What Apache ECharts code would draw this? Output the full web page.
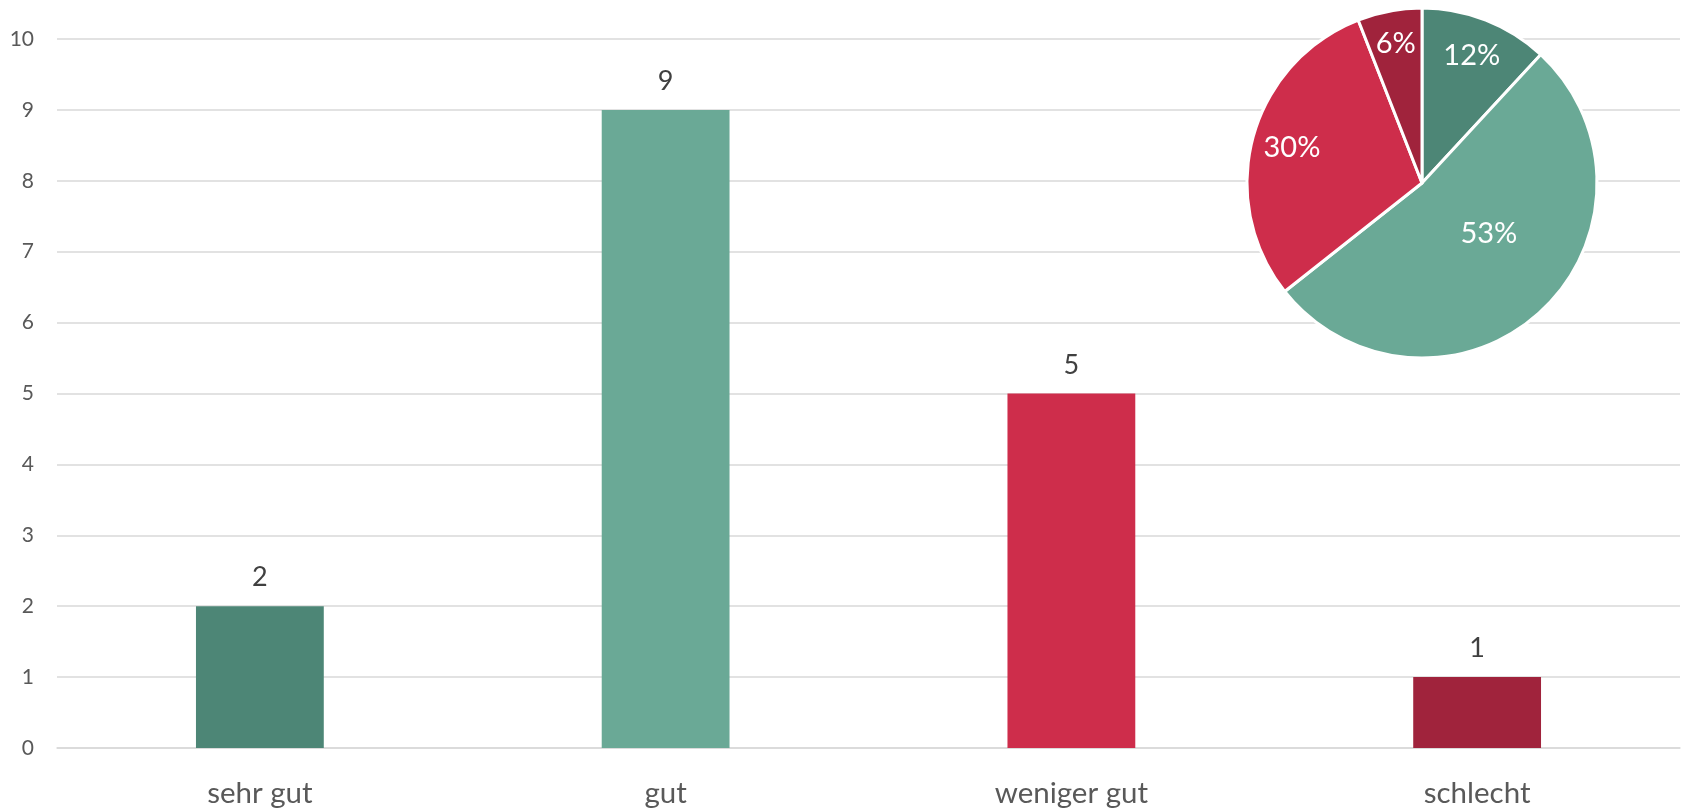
<!DOCTYPE html>
<html>
<head>
<meta charset="utf-8">
<script src="https://cdn.jsdelivr.net/npm/echarts@6/dist/echarts.min.js"></script>
<style>
html,body{margin:0;padding:0;background:#fff;}
#main{width:1685px;height:808px;}
</style>
</head>
<body>
<div id="main"></div>
<script>
const categories = ['sehr gut', 'gut', 'weniger gut', 'schlecht'];
const counts = [2, 9, 5, 1];
const piePercents = [12, 53, 30, 6];
const yTicks = [0, 1, 2, 3, 4, 5, 6, 7, 8, 9, 10];

const colors = ['#4D8676', '#6AA996', '#CE2D4B', '#A0233C'];
const FONT = 'Lato, "Open Sans", sans-serif';

const pieCenter = [1422, 183];
const pieRadius = 175;
const labelRatios = [0.78, 0.48, 0.77, 0.81];
const labelAngleShift = [0, -10, 0, 0];
const pieTotal = piePercents.reduce((a, b) => a + b, 0);

const chart = echarts.init(document.getElementById('main'));
chart.setOption({
  animation: false,
  backgroundColor: '#ffffff',
  grid: { left: 57, right: 5, top: 39, bottom: 59, containLabel: false },
  xAxis: {
    type: 'category',
    data: categories,
    axisLine: { show: true, lineStyle: { color: '#D9D9D9', width: 1.5 } },
    axisTick: { show: false },
    axisLabel: { color: '#595959', fontSize: 29.5, fontFamily: FONT, margin: 30 }
  },
  yAxis: {
    type: 'value',
    min: yTicks[0],
    max: yTicks[yTicks.length - 1],
    interval: 1,
    axisLine: { show: false },
    axisTick: { show: false },
    splitLine: { lineStyle: { color: '#D9D9D9', width: 1.5 } },
    axisLabel: { color: '#595959', fontSize: 21, fontFamily: FONT, margin: 23 }
  },
  series: [
    {
      type: 'bar',
      barWidth: '31.5%',
      data: counts.map((v, i) => ({ value: v, itemStyle: { color: colors[i] } })),
      label: {
        show: true,
        position: 'top',
        distance: 15,
        color: '#404040',
        fontSize: 27,
        fontFamily: FONT
      }
    },
    {
      type: 'pie',
      center: pieCenter,
      radius: pieRadius,
      startAngle: 90,
      clockwise: true,
      data: piePercents.map((v, i) => ({ name: categories[i], value: v, itemStyle: { color: colors[i] } })),
      itemStyle: { borderColor: '#ffffff', borderWidth: 3 },
      label: {
        show: true,
        position: 'inside',
        formatter: '{c}%',
        color: '#ffffff',
        fontSize: 29,
        fontFamily: FONT
      },
      labelLine: { show: false },
      labelLayout: function (params) {
        const i = params.dataIndex;
        let before = 0;
        for (let k = 0; k < i; k++) before += piePercents[k];
        const mid = (before + piePercents[i] / 2) / pieTotal * Math.PI * 2 + labelAngleShift[i] * Math.PI / 180;
        const r = pieRadius * labelRatios[i];
        return {
          x: pieCenter[0] + Math.sin(mid) * r,
          y: pieCenter[1] - Math.cos(mid) * r,
          align: 'center',
          verticalAlign: 'middle'
        };
      }
    }
  ]
});
</script>
</body>
</html>
